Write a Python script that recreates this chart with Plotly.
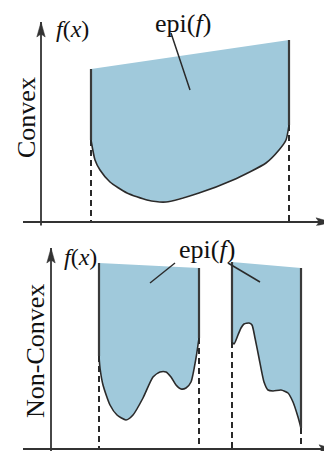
import plotly.graph_objects as go

# ---------------- data (units: panel coordinates, origin at axis crossing) -------------
# Top panel (convex)
top_bound_x = [5.0, 24.8]            # left / right boundary of the domain
top_edge_y = [15.3, 18.2]            # height of the (cut) epigraph top edge
top_curve_x = [5.0, 5.4, 5.9, 6.9, 8.6, 10.6, 12.5, 15.8, 19.2, 22.5, 23.8, 24.5, 24.8]
top_curve_y = [8.2, 6.2, 5.2, 4.0, 2.9, 2.2, 2.0, 2.9, 4.2, 5.9, 7.2, 8.2, 9.7]

# Bottom panel (non-convex), two pieces
bl_bound_x = [4.8, 14.8]
bl_edge_y = [18.6, 18.1]
bl_curve_x = [4.8, 4.9, 5.2, 5.9, 6.6, 7.5, 8.2, 9.2, 10.2, 10.9, 11.5, 12.0, 12.5, 13.0, 13.5, 14.0, 14.5, 14.8]
bl_curve_y = [9.3, 8.1, 6.4, 4.4, 3.4, 2.9, 3.4, 5.1, 7.2, 7.7, 7.7, 7.2, 6.4, 6.0, 6.1, 6.7, 9.1, 11.1]

br_bound_x = [18.1, 25.0]
br_edge_y = [18.7, 18.1]
br_curve_x = [18.1, 18.3, 18.7, 19.0, 19.3, 19.8, 20.1, 20.4, 20.8, 21.3, 21.7, 22.2, 23.0, 23.7, 24.2, 24.7, 25.0]
br_curve_y = [10.7, 10.5, 11.4, 12.1, 12.5, 12.6, 12.4, 11.1, 9.1, 6.7, 5.9, 5.8, 5.9, 5.6, 4.7, 3.2, 2.1]

# axis extents (start, tip)
top_xaxis = [-1.8, 29.0]
top_yaxis = [-0.5, 20.0]
bot_xaxis = [-2.8, 28.3]
bot_yaxis = [-0.2, 20.1]

# pointer lines for "epi(f)" labels
top_ptr = ([13.0, 14.9], [18.9, 13.2])
bot_ptr1 = ([12.4, 9.9], [18.6, 16.6])
bot_ptr2 = ([17.7, 20.9], [18.6, 16.7])

row_labels = ["Convex", "Non-Convex"]
fx_label = "<i>f</i>(<i>x</i>)"
epi_label = "epi(<i>f</i>)"

# ---------------- styles ----------------
FILL = "#a0c9db"
DARK = "#2a2a2a"
AX = "#333333"
FONT = "Liberation Serif"
HEAD_LEN = 1.5
HEAD_HALF = 0.42

fig = go.Figure()


def line(x, y, xa, ya, **kw):
    fig.add_trace(go.Scatter(x=x, y=y, mode="lines", line=kw, xaxis=xa, yaxis=ya,
                             hoverinfo="skip"))


def region(xs, edge_y, cx, cy, xa, ya):
    px = [xs[0], xs[1]] + cx[::-1] + [xs[0]]
    py = [edge_y[0], edge_y[1]] + cy[::-1] + [edge_y[0]]
    fig.add_trace(go.Scatter(x=px, y=py, fill="toself", fillcolor=FILL,
                             mode="lines", line=dict(width=0, color=FILL),
                             xaxis=xa, yaxis=ya, hoverinfo="skip"))
    line(cx, cy, xa, ya, color=DARK, width=1.6, shape="spline", smoothing=0.6)
    line([xs[0], xs[0]], [cy[0], edge_y[0]], xa, ya, color="#3a3a3a", width=2.2)
    line([xs[1], xs[1]], [cy[-1], edge_y[1]], xa, ya, color="#3a3a3a", width=2.2)
    for xv, yv in ((xs[0], cy[0]), (xs[1], cy[-1])):
        line([xv, xv], [yv, 0], xa, ya, color=DARK, width=2, dash="6px,4px")


def axes(xext, yext, xa, ya):
    line(xext, [0, 0], xa, ya, color=AX, width=1.8)
    line([0, 0], yext, xa, ya, color=AX, width=1.8)
    tx, ty = xext[1], yext[1]
    # arrowheads derived from the axis tips
    fig.add_trace(go.Scatter(
        x=[tx, tx - HEAD_LEN, tx - HEAD_LEN * 0.8, tx - HEAD_LEN, tx],
        y=[0, HEAD_HALF, 0, -HEAD_HALF, 0], fill="toself", fillcolor=AX,
        mode="lines", line=dict(width=0.5, color=AX), xaxis=xa, yaxis=ya, hoverinfo="skip"))
    fig.add_trace(go.Scatter(
        x=[0, HEAD_HALF, 0, -HEAD_HALF, 0],
        y=[ty, ty - HEAD_LEN, ty - HEAD_LEN * 0.8, ty - HEAD_LEN, ty], fill="toself",
        fillcolor=AX, mode="lines", line=dict(width=0.5, color=AX), xaxis=xa, yaxis=ya,
        hoverinfo="skip"))


region(top_bound_x, top_edge_y, top_curve_x, top_curve_y, "x", "y")
region(bl_bound_x, bl_edge_y, bl_curve_x, bl_curve_y, "x2", "y2")
region(br_bound_x, br_edge_y, br_curve_x, br_curve_y, "x2", "y2")

for (px, py), xa, ya in ((top_ptr, "x", "y"), (bot_ptr1, "x2", "y2"), (bot_ptr2, "x2", "y2")):
    line(px, py, xa, ya, color=DARK, width=1.5)

axes(top_xaxis, top_yaxis, "x", "y")
axes(bot_xaxis, bot_yaxis, "x2", "y2")

ann = [
    dict(x=-1.5, y=10.4, xref="x", yref="y", text=row_labels[0], textangle=-90,
         showarrow=False, font=dict(family=FONT, size=26, color="#111")),
    dict(x=-1.6, y=9.8, xref="x2", yref="y2", text=row_labels[1], textangle=-90,
         showarrow=False, font=dict(family=FONT, size=26, color="#111")),
    dict(x=3.1, y=19.3, xref="x", yref="y", text=fx_label, showarrow=False,
         font=dict(family=FONT, size=24, color="#111")),
    dict(x=2.9, y=19.2, xref="x2", yref="y2", text=fx_label, showarrow=False,
         font=dict(family=FONT, size=24, color="#111")),
    dict(x=14.2, y=19.9, xref="x", yref="y", text=epi_label, showarrow=False,
         font=dict(family=FONT, size=26, color="#111")),
    dict(x=15.6, y=20.0, xref="x2", yref="y2", text=epi_label, showarrow=False,
         font=dict(family=FONT, size=26, color="#111")),
]

# The page body has an 8px default margin: figure spans page px 8..332 x 8..451
OFF = 8
FW, FH = 332 - OFF, 451 - OFF
split = (451 - 225.5) / FH
ax_common = dict(visible=False, showgrid=False, zeroline=False, fixedrange=True)
fig.update_layout(
    width=FW, height=FH,
    margin=dict(l=0, r=0, t=0, b=0),
    paper_bgcolor="white", plot_bgcolor="white",
    showlegend=False,
    xaxis=dict(range=[(OFF - 41) / 10, (332 - 41) / 10], domain=[0, 1], anchor="y", **ax_common),
    yaxis=dict(range=[(222 - 225.5) / 10, (222 - OFF) / 10], domain=[split, 1], anchor="x", **ax_common),
    xaxis2=dict(range=[(OFF - 51) / 10, (332 - 51) / 10], domain=[0, 1], anchor="y2", **ax_common),
    yaxis2=dict(range=[(449 - 451) / 10, (449 - 225.5) / 10], domain=[0, split], anchor="x2", **ax_common),
    annotations=ann,
)

fig.write_html("out.html")
